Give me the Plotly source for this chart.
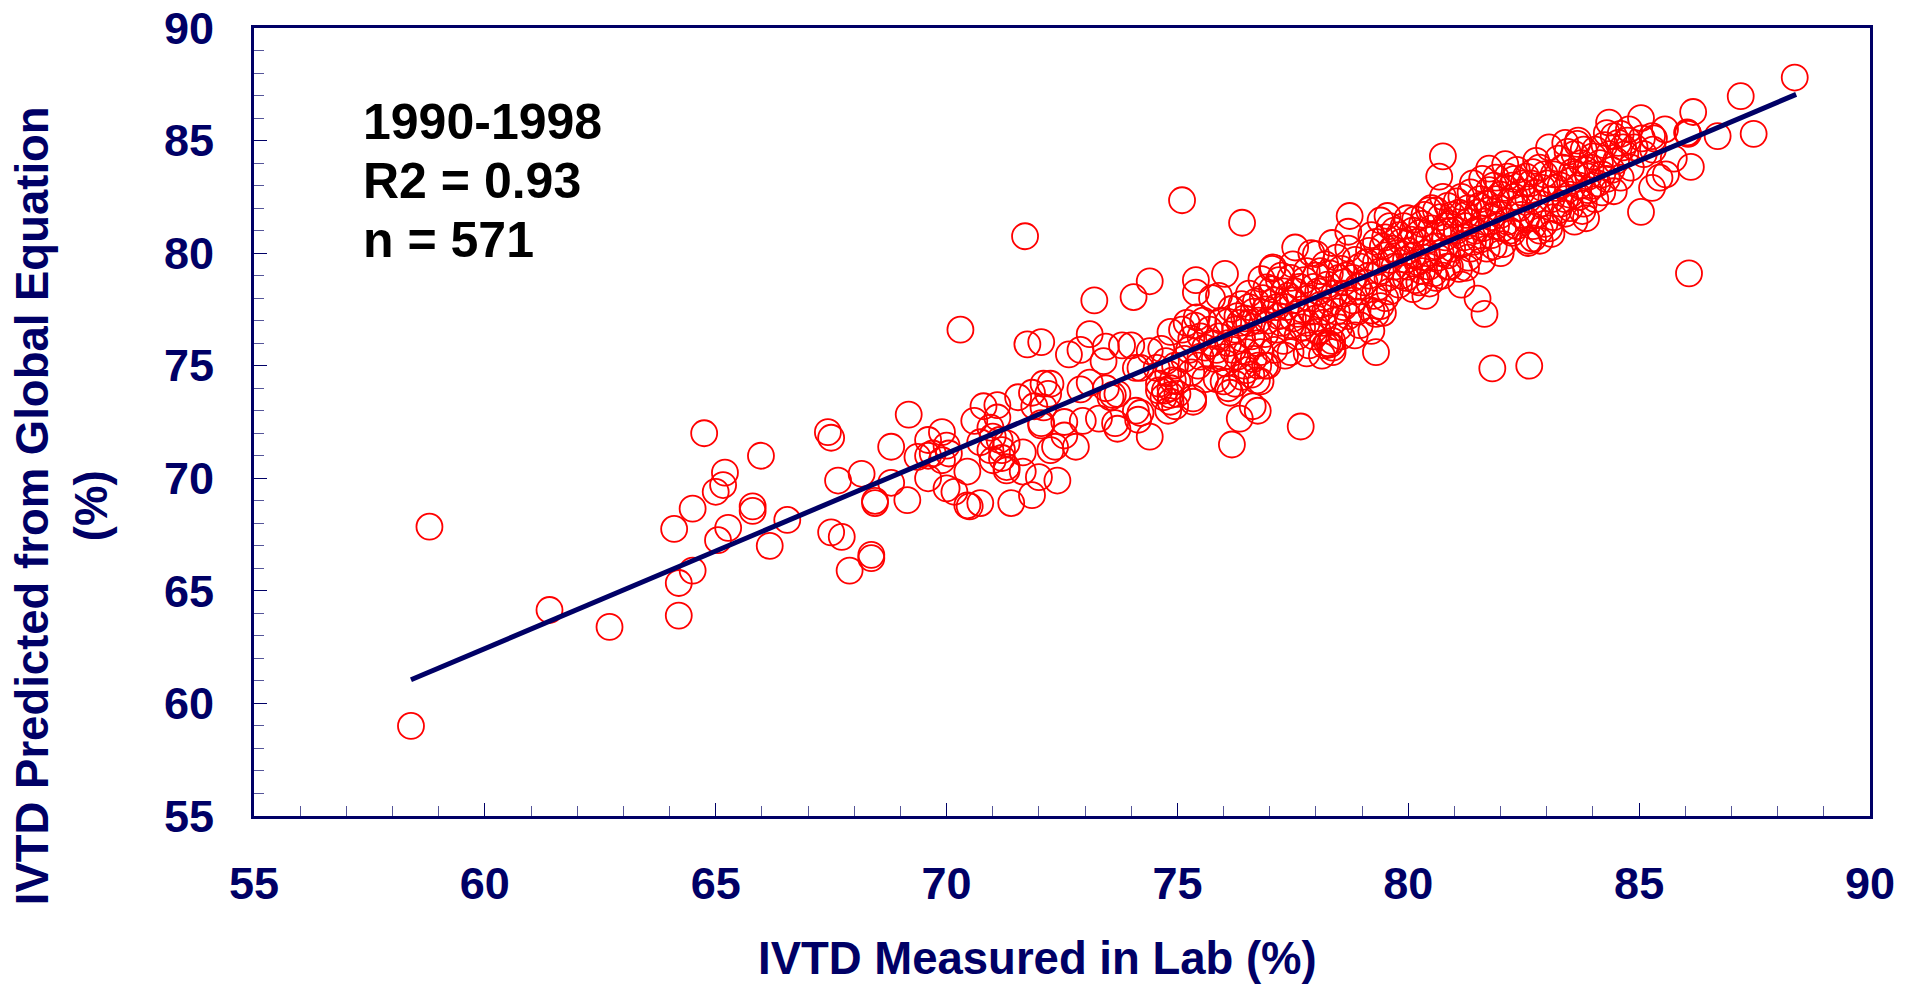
import plotly.graph_objects as go

# (measured, predicted) pairs, by region of the plot
points_58_67 = [(58.4,59.0),(58.8,67.85),(61.4,64.15),(62.7,63.4),(64.1,67.75),(64.2,65.35),(64.2,63.9),(64.5,65.9),(64.5,68.65),(64.75,72.0),(65.0,69.4),(65.2,70.25),(65.16,69.7),(65.05,67.25),(65.27,67.8),(65.8,68.75),(65.8,68.55),(65.98,71.0),(66.17,67.0),(66.55,68.15)]
points_67_71 = [(67.43,72.05),(67.5,71.8),(67.5,67.6),(67.73,67.4),(67.65,69.9),(67.9,65.9),(68.16,70.2),(68.37,66.6),(68.37,66.45),(68.45,69.0),(68.45,68.9),(68.8,71.4),(68.8,69.8),(69.18,72.83),(69.15,69.03),(69.6,71.7),(69.9,72.05),(69.37,70.95),(69.6,71.0),(70.0,71.45),(69.7,71.1),(70.05,71.1),(69.9,70.8),(69.6,70.0),(70.0,69.55),(70.17,69.4),(70.45,70.3),(70.45,68.8),(70.5,68.75),(70.73,68.9),(70.3,76.6),(70.6,72.55),(70.73,71.6),(70.8,73.2),(70.95,72.25),(71.0,71.85),(70.95,71.25),(71.0,70.8)]
points_71_75 = [(71.1,73.25),(71.1,72.7),(71.15,71.7),(71.3,71.55),(71.2,70.9),(71.3,70.5),(71.3,70.35),(71.65,70.3),(71.65,71.15),(71.2,71.25),(72.0,70.05),(72.4,69.9),(71.85,69.25),(71.4,68.9),(71.55,73.6),(71.85,73.8),(72.1,74.2),(72.25,74.2),(72.2,73.75),(71.9,73.2),(72.1,73.15),(72.05,72.45),(72.05,72.35),(72.9,73.95),(73.1,74.25),(72.55,72.5),(72.95,72.55),(73.3,72.65),(72.25,71.25),(72.55,71.9),(72.8,71.4),(72.35,71.4),(73.45,74.0),(73.6,73.7),(73.7,73.75),(73.55,73.6),(73.65,72.45),(73.7,72.2),(74.4,71.85),(74.2,72.9),(74.15,72.6),(74.1,73.0),(74.6,73.9),(74.7,73.6),(74.9,74.35),(74.8,74.65),(75.0,73.75),(74.85,73.4),(71.7,80.75),(71.75,75.95),(72.05,76.05),(72.65,75.5),(72.9,75.7),(73.1,76.4),(73.4,75.2),(73.45,75.85),(73.8,75.9),(74.0,75.9),(74.1,74.9),(74.2,74.9),(74.4,75.65),(74.65,75.75),(73.2,77.9),(74.05,78.05),(74.4,78.75),(74.55,74.9),(74.75,75.2),(74.95,75.0),(74.85,74.0),(75.0,74.3),(74.95,73.2),(74.8,73.0),(74.73,73.9),(74.85,73.7),(74.6,74.2)]
points_75_77 = [(75.1,82.35),(76.4,81.35),(75.4,78.8),(75.4,78.25),(76.03,79.08),(75.75,78.0),(75.9,78.1),(75.1,76.6),(74.85,76.5),(75.2,76.9),(75.38,76.78),(75.56,77.0),(75.42,77.15),(76.17,77.52),(76.39,77.74),(75.81,75.3),(75.99,75.38),(75.34,73.4),(75.34,73.55),(76.18,71.5),(76.35,72.65),(76.74,73.0),(76.63,73.2),(76.14,73.8),(76.1,74.0),(75.85,74.4),(76.72,74.35),(76.9,75.0),(76.25,74.2),(76.5,74.8),(76.0,74.3),(75.3,74.7),(75.45,75.0),(75.6,74.4),(75.15,75.3),(75.25,75.7),(75.6,75.8),(75.75,76.0),(75.9,76.3),(76.1,76.0),(76.25,76.6),(76.4,76.2),(76.55,76.9),(76.65,77.4),(76.3,75.4),(76.45,75.0),(76.65,75.3),(76.8,75.6),(76.6,74.6),(76.8,74.3),(76.95,75.0),(76.75,76.0),(76.9,76.4),(76.95,77.0),(76.82,78.85),(76.93,78.48),(76.85,78.0),(76.7,77.85),(76.45,77.1),(76.1,76.95),(75.5,75.4),(75.7,76.6),(75.95,77.0),(76.2,75.7),(76.5,75.6),(76.35,76.9),(76.6,76.3),(76.75,77.0),(76.9,77.5),(76.55,78.2),(76.3,77.2),(75.85,75.7),(75.3,76.2),(75.5,76.3),(76.05,75.1),(76.4,74.5),(76.75,75.0),(76.55,77.6)]
points_77_79 = [(77.07,79.37),(77.05,79.3),(77.5,79.5),(77.55,80.25),(78.0,79.96),(77.9,80.0),(78.35,80.45),(78.73,81.65),(78.7,80.95),(77.2,78.8),(77.3,78.3),(77.45,78.9),(77.65,78.5),(77.8,79.2),(78.0,79.0),(78.2,79.5),(78.45,79.8),(78.55,79.3),(78.7,80.2),(78.85,79.7),(77.1,77.9),(77.2,77.2),(77.35,77.6),(77.5,77.9),(77.7,77.5),(77.85,78.0),(78.05,78.3),(78.25,78.6),(78.4,78.2),(78.6,78.7),(78.8,78.9),(78.95,79.4),(77.15,76.6),(77.3,76.1),(77.45,76.8),(77.6,76.3),(77.8,76.9),(78.0,77.1),(78.2,77.4),(78.4,77.0),(78.6,77.6),(78.8,77.9),(78.95,78.3),(77.1,75.7),(77.33,75.45),(77.45,75.6),(77.8,75.55),(78.13,75.45),(78.36,75.8),(78.36,75.6),(78.3,75.95),(78.25,76.0),(78.35,76.1),(78.2,75.9),(78.55,76.3),(78.84,76.35),(78.95,76.8),(77.67,72.3),(77.85,75.9),(78.05,76.5),(77.05,78.4),(77.25,79.0),(77.4,78.1),(77.55,78.3),(77.75,78.8),(77.95,78.5),(78.1,79.2),(78.3,79.1),(78.5,78.9),(78.65,79.0),(78.9,78.5),(77.25,76.9),(77.5,77.1),(77.7,76.7),(77.95,76.3),(78.15,76.9),(78.3,77.8),(78.5,76.7),(78.7,77.2),(78.9,77.4),(77.6,77.3),(77.15,77.6),(78.1,77.7),(78.45,77.4),(78.6,78.2),(77.9,77.4)]
points_79_81 = [(79.4,81.45),(79.55,81.65),(79.98,81.55),(80.75,84.3),(80.67,83.4),(79.3,75.6),(79.45,77.35),(79.3,77.3),(79.2,77.45),(79.2,76.55),(79.4,77.65),(79.5,78.0),(79.35,78.5),(79.55,78.9),(79.15,79.0),(79.3,79.6),(79.5,79.9),(79.7,79.4),(79.85,79.0),(80.0,79.4),(80.15,78.8),(80.37,78.1),(80.24,78.7),(80.46,78.65),(80.74,79.0),(80.9,79.4),(79.15,80.1),(79.3,80.5),(79.5,80.7),(79.65,80.2),(79.85,80.5),(80.0,80.1),(80.2,80.5),(80.4,80.0),(80.6,80.3),(80.8,80.7),(80.95,80.2),(79.7,81.0),(79.9,81.2),(80.1,81.0),(80.3,81.3),(80.5,81.1),(80.7,81.6),(80.9,81.3),(80.2,79.6),(80.45,79.4),(80.65,79.8),(80.85,79.9),(79.6,78.3),(79.8,78.6),(80.1,78.4),(80.6,81.9),(80.85,82.1),(80.95,81.7),(80.75,82.5),(79.1,79.6),(79.25,78.1),(79.4,79.2),(79.6,79.7),(79.75,80.0),(79.95,79.7),(80.1,79.9),(80.3,79.2),(80.55,79.1),(80.7,80.0),(80.85,79.4),(79.2,80.8),(79.45,80.3),(79.6,81.2),(79.8,80.8),(80.05,80.6),(80.25,80.9),(80.45,80.6),(80.65,80.9),(80.9,81.0),(80.35,81.7),(80.5,82.0),(79.05,78.7),(79.95,78.9),(80.6,78.9),(80.35,79.8),(80.8,81.2),(80.15,81.5),(80.45,81.9)]
points_81_83 = [(81.15,78.6),(81.5,77.98),(81.65,77.3),(81.82,74.88),(82.62,75.0),(81.75,83.75),(81.9,83.35),(82.1,83.95),(81.1,79.3),(81.25,79.35),(81.3,79.8),(81.6,79.66),(81.7,80.2),(82.0,80.0),(81.15,80.4),(81.35,80.2),(81.55,80.6),(81.8,80.8),(82.05,80.4),(82.25,80.9),(82.6,80.55),(82.85,80.55),(82.6,80.45),(82.7,80.65),(82.85,81.0),(81.05,81.0),(81.25,81.2),(81.45,81.0),(81.65,81.4),(81.9,81.2),(82.15,81.4),(82.35,81.2),(82.55,81.5),(82.8,81.7),(82.95,81.3),(81.1,81.8),(81.3,82.0),(81.5,81.8),(81.7,82.2),(81.95,82.0),(82.2,82.3),(82.4,82.0),(82.6,82.4),(82.85,82.2),(81.15,82.5),(81.35,82.7),(81.55,82.4),(81.75,82.8),(82.0,82.6),(82.25,83.0),(82.45,82.7),(82.65,83.1),(82.9,82.9),(81.4,83.1),(81.6,83.3),(81.85,83.0),(82.15,83.4),(82.35,83.7),(82.55,83.4),(82.77,84.1),(82.84,83.8),(82.7,83.6),(82.95,83.5),(81.2,80.7),(81.4,80.5),(81.6,81.1),(81.8,81.6),(82.0,81.7),(82.2,81.0),(82.45,81.7),(82.7,81.2),(81.3,81.4),(81.55,82.1),(81.75,81.9),(82.1,82.9),(82.3,82.5),(82.5,83.1),(82.75,82.7),(81.25,81.7),(81.05,82.3),(81.9,82.4),(82.3,83.3),(82.05,81.1),(81.85,80.3)]
points_83_88 = [(83.05,84.7),(83.68,85.0),(83.66,84.85),(83.6,84.4),(83.85,81.55),(83.77,81.87),(84.05,82.4),(83.4,81.75),(83.5,82.0),(83.1,80.85),(83.05,81.1),(83.15,81.6),(83.3,82.2),(83.5,82.6),(83.7,82.5),(83.9,82.8),(83.1,82.4),(83.3,83.0),(83.5,83.2),(83.7,83.0),(83.9,83.4),(84.1,83.1),(84.3,83.3),(83.15,83.5),(83.35,83.8),(83.55,83.6),(83.75,84.0),(83.95,83.8),(84.15,84.0),(84.35,84.4),(83.25,84.2),(83.45,84.5),(84.05,84.6),(84.25,84.8),(84.45,82.75),(84.6,83.35),(84.82,83.8),(84.5,84.1),(84.7,84.4),(84.35,85.8),(84.3,85.33),(84.78,85.5),(85.04,86.0),(85.04,81.83),(85.06,85.1),(85.28,85.2),(85.32,85.1),(85.56,85.5),(85.75,84.2),(85.58,83.5),(85.28,82.9),(85.44,83.35),(84.9,84.7),(85.1,84.4),(85.3,84.6),(84.55,84.9),(84.75,85.0),(86.05,85.33),(86.06,85.3),(86.04,85.36),(86.12,83.83),(86.08,79.1),(86.17,86.27),(86.7,85.2),(87.2,86.97),(87.48,85.3),(88.37,87.8),(83.2,82.9),(83.4,82.4),(83.6,83.5),(83.8,82.2),(84.0,83.0),(84.2,82.7),(84.4,83.7),(84.65,84.7),(83.0,83.1),(83.25,81.9),(83.6,81.4),(83.85,83.7),(84.0,84.3),(84.2,83.5),(83.4,84.9),(83.8,84.6),(84.45,85.2),(84.6,85.3)]

fit_x = [58.4, 88.4]
fit_y = [61.05, 87.05]

x_title = "IVTD Measured in Lab (%)"
y_title_lines = ["IVTD Predicted from Global Equation", "(%)"]
note_lines = ["1990-1998", "R2 = 0.93", "n = 571"]
x_ticks = [55, 60, 65, 70, 75, 80, 85, 90]
y_ticks = [55, 60, 65, 70, 75, 80, 85, 90]

NAVY = "#000066"
FONT = "Liberation Sans"

all_points = (points_58_67 + points_67_71 + points_71_75 + points_75_77 +
              points_77_79 + points_79_81 + points_81_83 + points_83_88)

fig = go.Figure()
fig.add_trace(go.Scatter(
    x=[p[0] for p in all_points], y=[p[1] for p in all_points], mode="markers",
    marker=dict(symbol="circle-open", size=26, color="#ff0000", line=dict(color="#ff0000", width=1.8)),
    showlegend=False, hoverinfo="x+y"))
fig.add_trace(go.Scatter(
    x=fit_x, y=fit_y, mode="lines",
    line=dict(color=NAVY, width=5), showlegend=False))

axis_common = dict(
    range=[55, 90], tickmode="array", ticklabeloverflow="allow",
    ticks="inside", ticklen=13, tickwidth=1, tickcolor=NAVY,
    minor=dict(dtick=1, ticks="inside", ticklen=10, tickwidth=1, tickcolor="#55559a"),
    showgrid=False, zeroline=False, showline=True, linecolor=NAVY, linewidth=3, mirror=True,
    tickfont=dict(family=FONT, size=45, color=NAVY, weight=700),
)
fig.update_xaxes(**axis_common, tickvals=x_ticks, ticklabelstandoff=26)
fig.update_yaxes(**axis_common, tickvals=y_ticks, ticklabelstandoff=28)

fig.add_annotation(
    xref="paper", yref="paper", x=0.4846, y=-0.181, xanchor="center", yanchor="middle",
    text=f"<b>{x_title}</b>", showarrow=False, font=dict(family=FONT, size=45.5, color=NAVY))
fig.add_annotation(
    xref="paper", yref="paper", x=-0.119, y=0.394, xanchor="center", yanchor="middle", textangle=-90,
    text="<br>".join(f"<b>{s}</b>" for s in y_title_lines), showarrow=False,
    font=dict(family=FONT, size=45.5, color=NAVY))

for i, line in enumerate(note_lines):
    fig.add_annotation(
        xref="paper", yref="paper", x=0.0665, y=0.881 - i * 0.0752, xanchor="left", yanchor="middle",
        text=f"<b>{line}</b>", showarrow=False, font=dict(family=FONT, size=50, color="#000000"))

fig.update_layout(
    width=1914, height=987, autosize=False,
    margin=dict(l=253.5, r=43.5, t=27.5, b=171, autoexpand=False),
    paper_bgcolor="#ffffff", plot_bgcolor="#ffffff")

fig.write_html("out.html", config=dict(displayModeBar=False),
               post_script="document.body.style.margin='0';document.body.style.overflow='hidden';")
